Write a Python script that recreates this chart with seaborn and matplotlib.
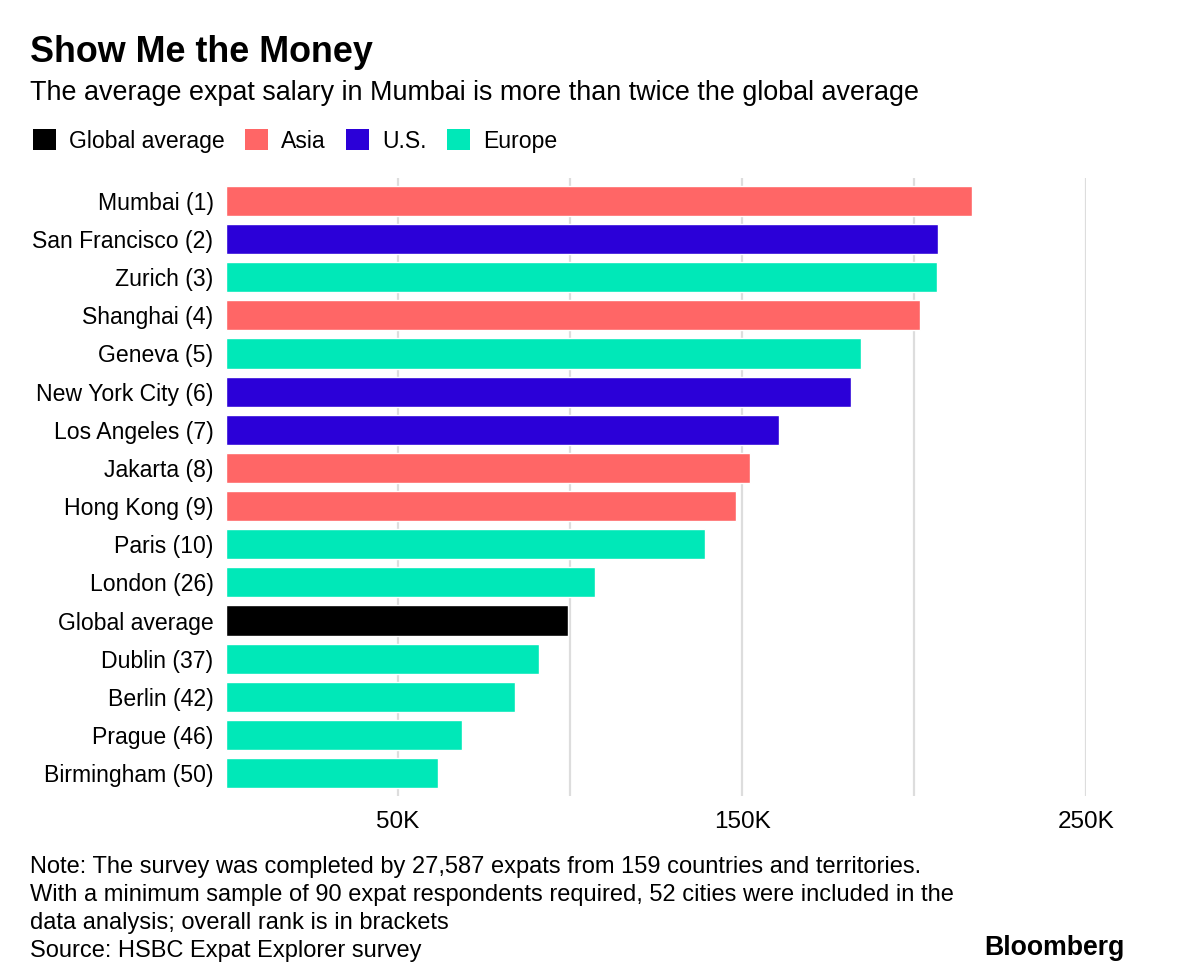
import matplotlib
matplotlib.use("Agg")
import matplotlib.pyplot as plt
import seaborn as sns
import pandas as pd
from matplotlib.patches import Patch

cities = ["Mumbai (1)", "San Francisco (2)", "Zurich (3)", "Shanghai (4)", "Geneva (5)",
          "New York City (6)", "Los Angeles (7)", "Jakarta (8)", "Hong Kong (9)", "Paris (10)",
          "London (26)", "Global average", "Dublin (37)", "Berlin (42)", "Prague (46)",
          "Birmingham (50)"]
salaries = [216900, 207000, 206700, 201700, 184600, 181700, 160800, 152300, 148300, 139200,
            107300, 99400, 91000, 84000, 68600, 61600]
regions = ["Asia", "U.S.", "Europe", "Asia", "Europe", "U.S.", "U.S.", "Asia", "Asia", "Europe",
           "Europe", "Global average", "Europe", "Europe", "Europe", "Europe"]
legend_order = ["Global average", "Asia", "U.S.", "Europe"]
tick_values = [50000, 100000, 150000, 200000, 250000]
tick_labels = ["50K", "", "150K", "", "250K"]

palette = {"Global average": "#000000", "Asia": "#FF6666", "U.S.": "#2B00D8", "Europe": "#00E8B8"}

df = pd.DataFrame({"city": cities, "salary": salaries, "region": regions})

sns.set_theme(style="white")
FONT = ["Liberation Sans", "DejaVu Sans"]
plt.rcParams["font.family"] = FONT
plt.rcParams["text.color"] = "#000000"
plt.rcParams["xtick.color"] = "#000000"
plt.rcParams["ytick.color"] = "#000000"

fig = plt.figure(figsize=(12, 9.76), dpi=100)
ax = fig.add_axes([226/1200, 1 - 796/976, (1086 - 226)/1200, (796 - 178)/976])

sns.barplot(data=df, x="salary", y="city", hue="region", palette=palette, dodge=False,
            width=0.79, orient="h", ax=ax, legend=False, saturation=1, zorder=3)

ax.set_xlim(0, 250000)
ax.set_ylim(15.6, -0.6)
ax.set_xticks(tick_values)
ax.set_xticklabels(tick_labels)
ax.grid(axis="x", color="#DDDDDD", linewidth=1.6, zorder=0)
ax.grid(axis="y", visible=False)
ax.set_axisbelow(True)
for s in ax.spines.values():
    s.set_visible(False)
ax.tick_params(axis="x", length=0, pad=11, labelsize=17.5, labelcolor="#000000")
ax.tick_params(axis="y", length=0, pad=9, labelsize=16.6, labelcolor="#000000")
ax.set_xlabel("")
ax.set_ylabel("")

fig.text(30/1200, 1 - 62/976, "Show Me the Money", fontsize=25.8, fontweight="bold",
         ha="left", va="baseline", color="#000000")
fig.text(30/1200, 1 - 100/976, "The average expat salary in Mumbai is more than twice the global average",
         fontsize=19.4, ha="left", va="baseline", color="#000000")

handles = [Patch(facecolor=palette[r], edgecolor="none", label=r) for r in legend_order]
leg = fig.legend(handles=handles, loc="center left", bbox_to_anchor=(33/1200, 1 - 141/976), ncol=4,
                 frameon=False, fontsize=16.6, handlelength=1.0, handleheight=1.0,
                 handletextpad=0.57, columnspacing=0.87, borderaxespad=0, borderpad=0)
for t in leg.get_texts():
    t.set_color("#000000")

notes = ["Note: The survey was completed by 27,587 expats from 159 countries and territories.",
         "With a minimum sample of 90 expat respondents required, 52 cities were included in the",
         "data analysis; overall rank is in brackets",
         "Source: HSBC Expat Explorer survey"]
for i, line in enumerate(notes):
    fig.text(30/1200, 1 - (873.5 + i * 27.7)/976, line, fontsize=17.0, ha="left", va="baseline",
             color="#000000")

fig.text(1125/1200, 1 - 955/976, "Bloomberg", fontsize=19.2, fontweight="bold", ha="right",
         va="baseline", color="#000000")

fig.savefig("out.png", dpi=100)
